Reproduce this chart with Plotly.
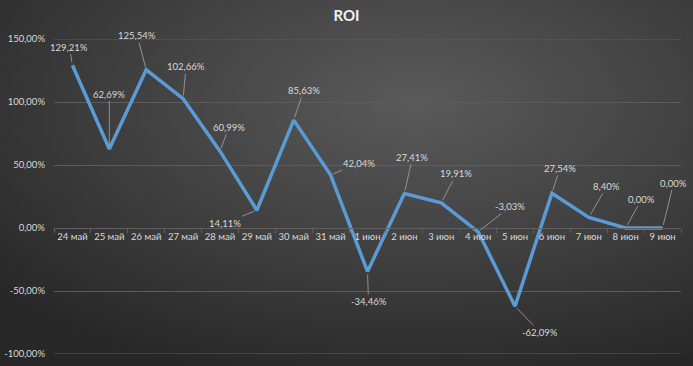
import base64
import plotly.graph_objects as go

categories = ["24 май", "25 май", "26 май", "27 май", "28 май", "29 май", "30 май", "31 май",
              "1 июн", "2 июн", "3 июн", "4 июн", "5 июн", "6 июн", "7 июн", "8 июн", "9 июн"]
roi = [129.21, 62.69, 125.54, 102.66, 60.99, 14.11, 85.63, 42.04,
       -34.46, 27.41, 19.91, -3.03, -62.09, 27.54, 8.40, 0.00, 0.00]
y_ticks = [-100, -50, 0, 50, 100, 150]
# label offsets (pixels) for leader-line data labels
label_dx = [-3, 0, -9, 3, 9, -32, 10, 28, 1, 8, 15, 32, 25, 8, 18, 16, 11]
label_dy = [-18, -55, -34, -32, -24, 13, -30, -12, 30, -36, -29, -25, 26, -25, -31, -29, -45]

def fmt(v):
    return f"{v:.2f}".replace(".", ",") + "%"

svg = """<svg xmlns='http://www.w3.org/2000/svg' width='693' height='366'>
<defs><radialGradient id='g' cx='0.6' cy='0.28' r='0.8' gradientUnits='objectBoundingBox'>
<stop offset='0' stop-color='#5a5a5a'/><stop offset='0.5' stop-color='#414141'/><stop offset='1' stop-color='#272727'/>
</radialGradient></defs><rect width='693' height='366' fill='url(#g)'/></svg>"""
bg = "data:image/svg+xml;base64," + base64.b64encode(svg.encode()).decode()

fig = go.Figure()
fig.add_trace(go.Scatter(x=categories, y=roi, mode="lines",
                         line=dict(color="#5b9bd5", width=3.5), hoverinfo="skip"))

for c, v, dx, dy in zip(categories, roi, label_dx, label_dy):
    fig.add_annotation(x=c, y=v, text=fmt(v), showarrow=True, arrowhead=0,
                       arrowcolor="#a6a6a6", arrowwidth=0.8, ax=dx, ay=dy,
                       standoff=3, font=dict(color="#d9d9d9", size=9.5, family="Lato"))

# grid lines at the range edges (plotly omits them there)
for t in (y_ticks[0], y_ticks[-1]):
    fig.add_shape(type="line", xref="paper", yref="y", x0=0, x1=1, y0=t, y1=t,
                  line=dict(color="#5c5c5c", width=1), layer="below")

fig.update_layout(
    width=693, height=366,
    margin=dict(l=54, r=12, t=39, b=12, autoexpand=False),
    paper_bgcolor="#333333", plot_bgcolor="rgba(0,0,0,0)",
    showlegend=False,
    title=dict(text="<b>ROI</b>", x=0.5, xanchor="center", y=0.958, yanchor="middle",
               font=dict(color="#f2f2f2", size=15, family="Lato"), automargin=False),
    images=[dict(source=bg, xref="paper", yref="paper", x=-54/627, y=1 + 39/315,
                 sizex=693/627, sizey=366/315, xanchor="left", yanchor="top",
                 sizing="stretch", layer="below")],
    xaxis=dict(type="category", anchor="free", position=0.4, showgrid=False,
               showline=True, linecolor="#5f5f5f", linewidth=1,
               ticks="outside", tickson="boundaries", ticklen=4, tickcolor="#5f5f5f",
               tickangle=0, automargin=False,
               tickfont=dict(color="#d9d9d9", size=9.5, family="Lato"),
               range=[-0.5, len(categories) - 0.5], fixedrange=True),
    yaxis=dict(range=[-100, 150], tickvals=y_ticks,
               ticktext=[fmt(t) for t in y_ticks],
               showgrid=True, gridcolor="#5c5c5c", gridwidth=1, zeroline=False,
               ticklabelstandoff=8, automargin=False,
               tickfont=dict(color="#d9d9d9", size=9.5, family="Lato"), fixedrange=True),
)

fig.write_html("out.html", config={"displayModeBar": False},
               post_script="document.body.style.margin='0';document.body.style.overflow='hidden';")
